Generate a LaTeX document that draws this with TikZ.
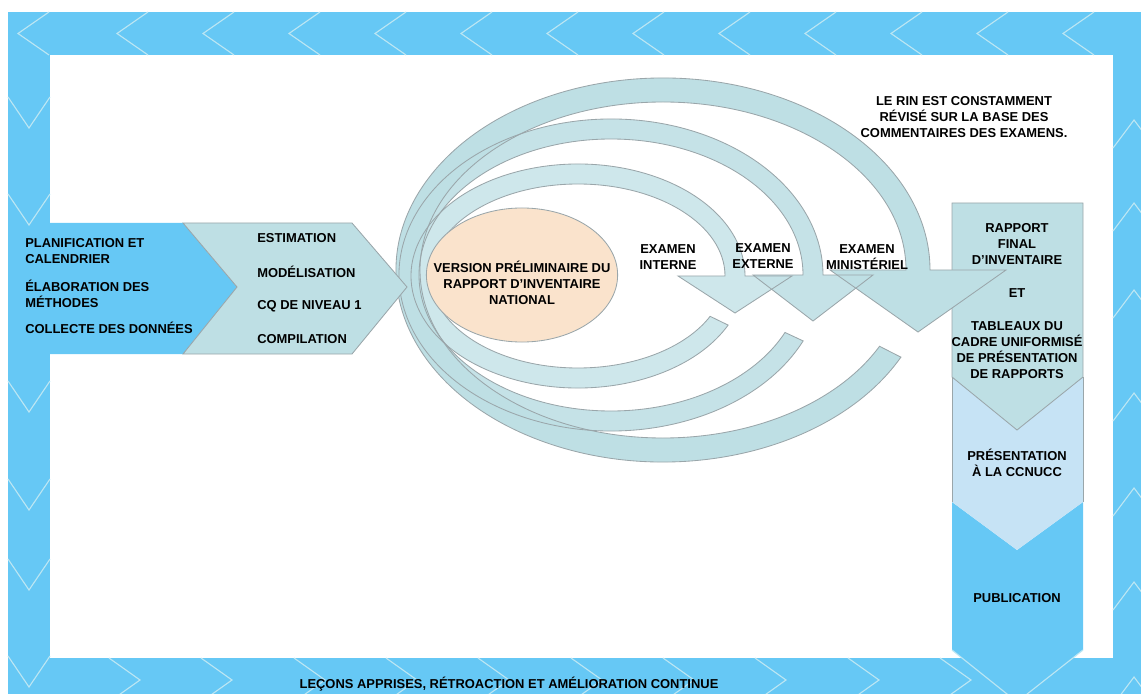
\documentclass[tikz,border=0pt]{standalone}
\usepackage{fontspec}
\setmainfont{Liberation Sans}
\usetikzlibrary{shapes.geometric}
\definecolor{cadre}{HTML}{66C8F5}
\definecolor{chevron}{HTML}{BCE6F3}
\definecolor{sarcelle}{HTML}{BEDFE4}
\definecolor{bord}{HTML}{9AA6AA}
\definecolor{peche}{HTML}{FAE3CC}
\definecolor{pale}{HTML}{C6E3F5}
\tikzset{
  etape/.style  = {fill=sarcelle, draw=bord, line width=0.6pt},
  fleche/.style = {draw=chevron, line width=0.8pt},
  trait/.style  = {draw=bord, line width=0.6pt},
  txt/.style    = {font=\fontsize{9.2}{11.4}\selectfont\bfseries, inner sep=0pt, align=center},
  txtg/.style   = {txt, align=left, anchor=west}
}
% boucle de revision : options, cx, cy, rx, ry, largeur, angle de depart, demi-pointe, longueur pointe
\newcommand{\boucle}[9]{%
  \pgfmathsetmacro\rxo{#4+#6/2}\pgfmathsetmacro\ryo{#5+#6/2}%
  \pgfmathsetmacro\rxi{#4-#6/2}\pgfmathsetmacro\ryi{#5-#6/2}%
  \path[#1] ({#2+\rxo*cos(#7)},{#3+\ryo*sin(#7)})
    arc[start angle=#7, end angle=360, x radius=\rxo, y radius=\ryo]
    -- ({#2+#4+#8},#3) -- ({#2+#4},{#3+#9}) -- ({#2+#4-#8},#3)
    -- ({#2+\rxi},#3)
    arc[start angle=360, end angle=#7, x radius=\rxi, y radius=\ryi]
    -- cycle;}

\begin{document}
\begin{tikzpicture}[x=0.025cm, y=-0.025cm]
  \useasboundingbox (0,0) rectangle (1141,694);
  \begin{scope}
  \clip (0,0) rectangle (1141,694);

  % cadre
  \fill[cadre] (8,12) rectangle (1141,55);
  \fill[cadre] (8,12) rectangle (50,694);
  \fill[cadre] (8,658) rectangle (1141,694);
  \fill[cadre] (1113,12) rectangle (1141,694);
  \foreach \x in {18,117,203,289,375,461,547,633,719,805,891,977,1063}
    \draw[fleche] (\x+31,12) -- (\x,33.5) -- (\x+31,55);
  \foreach \y in {128,225,412,510,590,687}
    \draw[fleche] (8,\y-31) -- (29,\y) -- (50,\y-31);
  \foreach \x in {140,232,325,417,509,602,694,786,879,971}
    \draw[fleche] (\x-31,658) -- (\x,680) -- (\x-31,702);
  \foreach \y in {120,203,290,393,488,582,677}
    \draw[fleche] (1113,\y+28) -- (1134,\y) -- (1155,\y+28);

  % preparation
  \fill[cadre] (50,223) -- (183,223) -- (237,287) -- (183,354) -- (50,354) -- cycle;

  % colonne de droite
  \fill[cadre] (952,502) -- (1017,550) -- (1083,502) -- (1083,650) -- (1017,702) -- (952,650) -- cycle;
  \draw[fleche] (952,650) -- (1017,702) -- (1083,650);
  \fill[pale] (952,377) -- (1017,430) -- (1083,377) -- (1083,502) -- (1017,550) -- (952,502) -- cycle;
  \draw[trait] (952,377) -- (952,502) (1083,377) -- (1083,502);
  \draw[etape] (952,203) -- (1083,203) -- (1083,377) -- (1017,430) -- (952,377) -- cycle;

  % boucles d'examen
  \boucle{fill=sarcelle!75!white}{578}{276}{157}{102}{20}{26}{57}{37}
  \boucle{fill=sarcelle!90!white}{611}{275}{202}{146}{20}{25}{60}{46}
  \boucle{fill=sarcelle}{663}{270}{255}{180}{24}{27}{88}{62}
  \boucle{trait}{578}{276}{157}{102}{20}{26}{57}{37}
  \boucle{trait}{611}{275}{202}{146}{20}{25}{60}{46}
  \boucle{trait}{663}{270}{255}{180}{24}{27}{88}{62}

  \draw[etape] (183,223) -- (352,223) -- (407,287) -- (352,354) -- (183,354) -- (237,287) -- cycle;
  \end{scope}

  \node[ellipse, draw=bord, fill=peche, line width=0.6pt, minimum width=4.78cm, minimum height=3.35cm, inner sep=0pt] (vpr) at (522,275) {};
  \node[txt] (vprt) at (522,283) {VERSION PRÉLIMINAIRE DU\\RAPPORT D'INVENTAIRE\\NATIONAL};

  \node[txtg] (plan) at (25,251) {PLANIFICATION ET\\CALENDRIER};
  \node[txtg] (meth) at (25,294) {ÉLABORATION DES\\MÉTHODES};
  \node[txtg] (coll) at (25,328) {COLLECTE DES DONNÉES};

  \node[txtg] (esti) at (257,238) {ESTIMATION};
  \node[txtg] (mode) at (257,272) {MODÉLISATION};
  \node[txtg] (cq)   at (257,306) {CQ DE NIVEAU 1};
  \node[txtg] (comp) at (257,339) {COMPILATION};

  \node[txt] (int) at (668,257) {EXAMEN\\INTERNE};
  \node[txt] (ext) at (763,256) {EXAMEN\\EXTERNE};
  \node[txt] (min) at (867,257) {EXAMEN\\MINISTÉRIEL};
  \node[txt] (rin) at (964,117) {LE RIN EST CONSTAMMENT\\RÉVISÉ SUR LA BASE DES\\COMMENTAIRES DES EXAMENS.};

  \node[txt] (rfi) at (1017,244) {RAPPORT\\FINAL\\D'INVENTAIRE};
  \node[txt] (et)  at (1017,293) {ET};
  \node[txt] (tab) at (1017,350) {TABLEAUX DU\\CADRE UNIFORMISÉ\\DE PRÉSENTATION\\DE RAPPORTS};
  \node[txt] (pre) at (1017,463) {PRÉSENTATION\\À LA CCNUCC};
  \node[txt] (pub) at (1017,598) {PUBLICATION};

  \node[txt] (lec) at (509,684) {LEÇONS APPRISES, RÉTROACTION ET AMÉLIORATION CONTINUE};
\end{tikzpicture}
\end{document}
